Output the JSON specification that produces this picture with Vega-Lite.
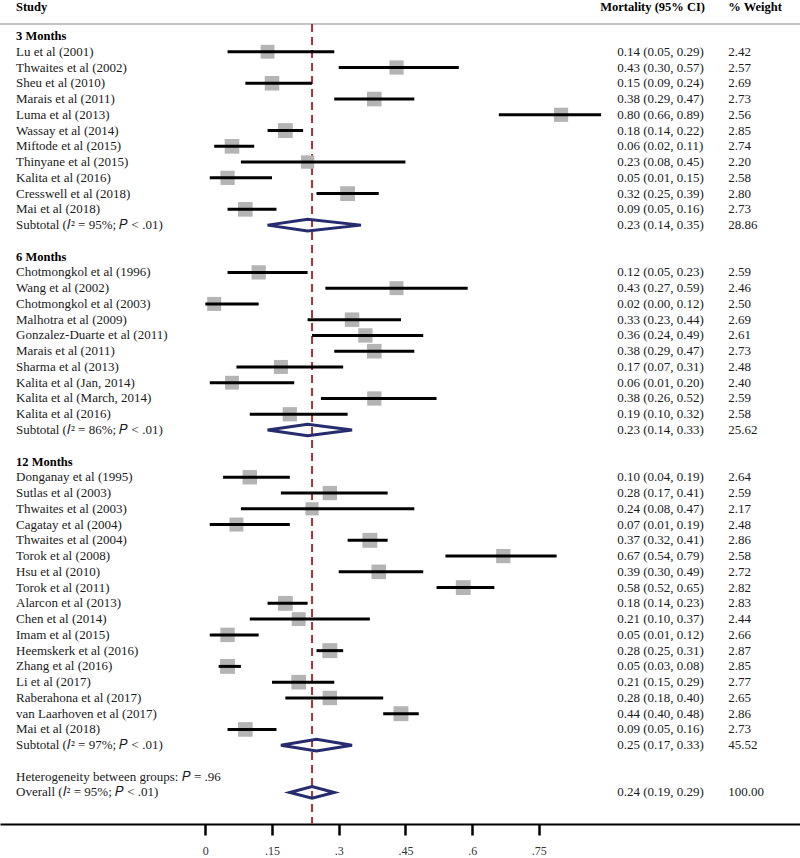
{
  "$schema": "https://vega.github.io/schema/vega-lite/v6.json",
  "width": 800,
  "height": 824,
  "autosize": {"type": "none"},
  "padding": {"left": 0, "top": 0, "right": 0, "bottom": 34},
  "background": "white",
  "config": {
    "view": {"stroke": null},
    "font": "Liberation Serif",
    "text": {"font": "Liberation Serif", "fontSize": 13, "color": "#1a1a1a"},
    "axisX": {"grid": false, "domainColor": "black", "domainWidth": 2, "tickColor": "black", "tickWidth": 2.5, "tickSize": 11, "labelFont": "Liberation Serif", "labelFontSize": 12, "labelColor": "#333333", "labelPadding": 10}
  },
  "datasets": {
    "one": [{"k": 1}],
    "rows": [
      {"row": 0, "label": "3 Months", "kind": "group"},
      {"row": 1, "label": "Lu et al (2001)", "kind": "study", "est": 0.14, "lo": 0.05, "hi": 0.29, "ci": "0.14 (0.05, 0.29)", "w": 2.42},
      {"row": 2, "label": "Thwaites et al (2002)", "kind": "study", "est": 0.43, "lo": 0.30, "hi": 0.57, "ci": "0.43 (0.30, 0.57)", "w": 2.57},
      {"row": 3, "label": "Sheu et al (2010)", "kind": "study", "est": 0.15, "lo": 0.09, "hi": 0.24, "ci": "0.15 (0.09, 0.24)", "w": 2.69},
      {"row": 4, "label": "Marais et al (2011)", "kind": "study", "est": 0.38, "lo": 0.29, "hi": 0.47, "ci": "0.38 (0.29, 0.47)", "w": 2.73},
      {"row": 5, "label": "Luma et al (2013)", "kind": "study", "est": 0.80, "lo": 0.66, "hi": 0.89, "ci": "0.80 (0.66, 0.89)", "w": 2.56},
      {"row": 6, "label": "Wassay et al (2014)", "kind": "study", "est": 0.18, "lo": 0.14, "hi": 0.22, "ci": "0.18 (0.14, 0.22)", "w": 2.85},
      {"row": 7, "label": "Miftode et al (2015)", "kind": "study", "est": 0.06, "lo": 0.02, "hi": 0.11, "ci": "0.06 (0.02, 0.11)", "w": 2.74},
      {"row": 8, "label": "Thinyane et al (2015)", "kind": "study", "est": 0.23, "lo": 0.08, "hi": 0.45, "ci": "0.23 (0.08, 0.45)", "w": 2.20},
      {"row": 9, "label": "Kalita et al (2016)", "kind": "study", "est": 0.05, "lo": 0.01, "hi": 0.15, "ci": "0.05 (0.01, 0.15)", "w": 2.58},
      {"row": 10, "label": "Cresswell et al (2018)", "kind": "study", "est": 0.32, "lo": 0.25, "hi": 0.39, "ci": "0.32 (0.25, 0.39)", "w": 2.80},
      {"row": 11, "label": "Mai et al (2018)", "kind": "study", "est": 0.09, "lo": 0.05, "hi": 0.16, "ci": "0.09 (0.05, 0.16)", "w": 2.73},
      {"row": 12, "label": "Subtotal (𝐼² = 95%; 𝑃 < .01)", "kind": "sub", "est": 0.23, "lo": 0.14, "hi": 0.35, "ci": "0.23 (0.14, 0.35)", "w": 28.86},
      {"row": 14, "label": "6 Months", "kind": "group"},
      {"row": 15, "label": "Chotmongkol et al (1996)", "kind": "study", "est": 0.12, "lo": 0.05, "hi": 0.23, "ci": "0.12 (0.05, 0.23)", "w": 2.59},
      {"row": 16, "label": "Wang et al (2002)", "kind": "study", "est": 0.43, "lo": 0.27, "hi": 0.59, "ci": "0.43 (0.27, 0.59)", "w": 2.46},
      {"row": 17, "label": "Chotmongkol et al (2003)", "kind": "study", "est": 0.02, "lo": 0.00, "hi": 0.12, "ci": "0.02 (0.00, 0.12)", "w": 2.50},
      {"row": 18, "label": "Malhotra et al (2009)", "kind": "study", "est": 0.33, "lo": 0.23, "hi": 0.44, "ci": "0.33 (0.23, 0.44)", "w": 2.69},
      {"row": 19, "label": "Gonzalez-Duarte et al (2011)", "kind": "study", "est": 0.36, "lo": 0.24, "hi": 0.49, "ci": "0.36 (0.24, 0.49)", "w": 2.61},
      {"row": 20, "label": "Marais et al (2011)", "kind": "study", "est": 0.38, "lo": 0.29, "hi": 0.47, "ci": "0.38 (0.29, 0.47)", "w": 2.73},
      {"row": 21, "label": "Sharma et al (2013)", "kind": "study", "est": 0.17, "lo": 0.07, "hi": 0.31, "ci": "0.17 (0.07, 0.31)", "w": 2.48},
      {"row": 22, "label": "Kalita et al (Jan, 2014)", "kind": "study", "est": 0.06, "lo": 0.01, "hi": 0.20, "ci": "0.06 (0.01, 0.20)", "w": 2.40},
      {"row": 23, "label": "Kalita et al (March, 2014)", "kind": "study", "est": 0.38, "lo": 0.26, "hi": 0.52, "ci": "0.38 (0.26, 0.52)", "w": 2.59},
      {"row": 24, "label": "Kalita et al (2016)", "kind": "study", "est": 0.19, "lo": 0.10, "hi": 0.32, "ci": "0.19 (0.10, 0.32)", "w": 2.58},
      {"row": 25, "label": "Subtotal (𝐼² = 86%; 𝑃 < .01)", "kind": "sub", "est": 0.23, "lo": 0.14, "hi": 0.33, "ci": "0.23 (0.14, 0.33)", "w": 25.62},
      {"row": 27, "label": "12 Months", "kind": "group"},
      {"row": 28, "label": "Donganay et al (1995)", "kind": "study", "est": 0.10, "lo": 0.04, "hi": 0.19, "ci": "0.10 (0.04, 0.19)", "w": 2.64},
      {"row": 29, "label": "Sutlas et al (2003)", "kind": "study", "est": 0.28, "lo": 0.17, "hi": 0.41, "ci": "0.28 (0.17, 0.41)", "w": 2.59},
      {"row": 30, "label": "Thwaites et al (2003)", "kind": "study", "est": 0.24, "lo": 0.08, "hi": 0.47, "ci": "0.24 (0.08, 0.47)", "w": 2.17},
      {"row": 31, "label": "Cagatay et al (2004)", "kind": "study", "est": 0.07, "lo": 0.01, "hi": 0.19, "ci": "0.07 (0.01, 0.19)", "w": 2.48},
      {"row": 32, "label": "Thwaites et al (2004)", "kind": "study", "est": 0.37, "lo": 0.32, "hi": 0.41, "ci": "0.37 (0.32, 0.41)", "w": 2.86},
      {"row": 33, "label": "Torok et al (2008)", "kind": "study", "est": 0.67, "lo": 0.54, "hi": 0.79, "ci": "0.67 (0.54, 0.79)", "w": 2.58},
      {"row": 34, "label": "Hsu et al (2010)", "kind": "study", "est": 0.39, "lo": 0.30, "hi": 0.49, "ci": "0.39 (0.30, 0.49)", "w": 2.72},
      {"row": 35, "label": "Torok et al (2011)", "kind": "study", "est": 0.58, "lo": 0.52, "hi": 0.65, "ci": "0.58 (0.52, 0.65)", "w": 2.82},
      {"row": 36, "label": "Alarcon et al (2013)", "kind": "study", "est": 0.18, "lo": 0.14, "hi": 0.23, "ci": "0.18 (0.14, 0.23)", "w": 2.83},
      {"row": 37, "label": "Chen et al (2014)", "kind": "study", "est": 0.21, "lo": 0.10, "hi": 0.37, "ci": "0.21 (0.10, 0.37)", "w": 2.44},
      {"row": 38, "label": "Imam et al (2015)", "kind": "study", "est": 0.05, "lo": 0.01, "hi": 0.12, "ci": "0.05 (0.01, 0.12)", "w": 2.66},
      {"row": 39, "label": "Heemskerk et al (2016)", "kind": "study", "est": 0.28, "lo": 0.25, "hi": 0.31, "ci": "0.28 (0.25, 0.31)", "w": 2.87},
      {"row": 40, "label": "Zhang et al (2016)", "kind": "study", "est": 0.05, "lo": 0.03, "hi": 0.08, "ci": "0.05 (0.03, 0.08)", "w": 2.85},
      {"row": 41, "label": "Li et al (2017)", "kind": "study", "est": 0.21, "lo": 0.15, "hi": 0.29, "ci": "0.21 (0.15, 0.29)", "w": 2.77},
      {"row": 42, "label": "Raberahona et al (2017)", "kind": "study", "est": 0.28, "lo": 0.18, "hi": 0.40, "ci": "0.28 (0.18, 0.40)", "w": 2.65},
      {"row": 43, "label": "van Laarhoven et al (2017)", "kind": "study", "est": 0.44, "lo": 0.40, "hi": 0.48, "ci": "0.44 (0.40, 0.48)", "w": 2.86},
      {"row": 44, "label": "Mai et al (2018)", "kind": "study", "est": 0.09, "lo": 0.05, "hi": 0.16, "ci": "0.09 (0.05, 0.16)", "w": 2.73},
      {"row": 45, "label": "Subtotal (𝐼² = 97%; 𝑃 < .01)", "kind": "sub", "est": 0.25, "lo": 0.17, "hi": 0.33, "ci": "0.25 (0.17, 0.33)", "w": 45.52},
      {"row": 47, "label": "Heterogeneity between groups: 𝑃 = .96", "kind": "het"},
      {"row": 48, "label": "Overall (𝐼² = 95%; 𝑃 < .01)", "kind": "overall", "est": 0.24, "lo": 0.19, "hi": 0.29, "ci": "0.24 (0.19, 0.29)", "w": 100.00}
    ]
  },
  "data": {"name": "rows"},
  "layer": [
    {
      "data": {"name": "one"},
      "mark": {"type": "rule", "color": "#c4c4c4", "strokeWidth": 2.2},
      "encoding": {
        "y": {"datum": -0.76, "type": "quantitative", "scale": {"domain": [-2.284, 50], "reverse": true, "nice": false, "zero": false}, "axis": null}
      }
    },
    {
      "data": {"name": "one"},
      "mark": {"type": "rule", "color": "#a8323a", "strokeWidth": 2, "strokeDash": [8, 5]},
      "encoding": {
        "x": {"datum": 0.24, "type": "quantitative"},
        "y": {"datum": -0.76, "type": "quantitative", "axis": null},
        "y2": {"datum": 50}
      }
    },
    {
      "transform": [{"filter": "datum.kind === 'study'"}],
      "mark": {"type": "point", "shape": "square", "filled": true, "color": "#b4b4b4", "opacity": 1},
      "encoding": {
        "x": {"field": "est", "type": "quantitative"},
        "y": {"field": "row", "type": "quantitative", "axis": null},
        "size": {"field": "w", "type": "quantitative", "scale": {"domain": [2.1, 2.9], "range": [170, 225]}, "legend": null}
      }
    },
    {
      "transform": [{"filter": "datum.kind === 'study'"}],
      "mark": {"type": "rule", "color": "black", "strokeWidth": 3},
      "encoding": {
        "x": {
          "field": "lo", "type": "quantitative",
          "scale": {"domain": [-0.4617, 1.3373], "nice": false, "zero": false},
          "axis": {
            "title": null, "values": [0, 0.15, 0.3, 0.45, 0.6, 0.75],
            "labelExpr": "datum.value == 0 ? '0' : replace(format(datum.value, '.2~f'), '0.', '.')"
          }
        },
        "x2": {"field": "hi"},
        "y": {"field": "row", "type": "quantitative", "axis": null}
      }
    },
    {
      "transform": [
        {"filter": "datum.kind === 'sub' || datum.kind === 'overall'"},
        {"fold": ["lo", "est", "hi"], "as": ["vertex", "xv"]},
        {"calculate": "datum.vertex === 'est' ? 0.37 : 0", "as": "hh"},
        {"calculate": "datum.row - datum.hh", "as": "ytop"},
        {"calculate": "datum.row + datum.hh", "as": "ybot"}
      ],
      "mark": {"type": "area", "orient": "vertical", "fill": null, "fillOpacity": 0, "stroke": "#262c6e", "strokeWidth": 3, "strokeJoin": "miter"},
      "encoding": {
        "x": {"field": "xv", "type": "quantitative"},
        "y": {"field": "ytop", "type": "quantitative", "axis": null},
        "y2": {"field": "ybot"},
        "detail": {"field": "row"}
      }
    },
    {
      "transform": [{"filter": "datum.kind !== 'group'"}],
      "mark": {"type": "text", "align": "left", "baseline": "middle"},
      "encoding": {
        "x": {"datum": -0.4257, "type": "quantitative"},
        "y": {"field": "row", "type": "quantitative", "axis": null},
        "text": {"field": "label"}
      }
    },
    {
      "transform": [{"filter": "datum.kind === 'group'"}],
      "mark": {"type": "text", "align": "left", "baseline": "middle", "fontWeight": "bold", "fontSize": 12.5, "color": "black"},
      "encoding": {
        "x": {"datum": -0.4257, "type": "quantitative"},
        "y": {"field": "row", "type": "quantitative", "axis": null},
        "text": {"field": "label"}
      }
    },
    {
      "transform": [{"filter": "isValid(datum.ci)"}],
      "mark": {"type": "text", "align": "left", "baseline": "middle"},
      "encoding": {
        "x": {"datum": 0.9264, "type": "quantitative"},
        "y": {"field": "row", "type": "quantitative", "axis": null},
        "text": {"field": "ci"}
      }
    },
    {
      "transform": [{"filter": "isValid(datum.w)"}],
      "mark": {"type": "text", "align": "left", "baseline": "middle"},
      "encoding": {
        "x": {"datum": 1.176, "type": "quantitative"},
        "y": {"field": "row", "type": "quantitative", "axis": null},
        "text": {"field": "w", "format": ".2f"}
      }
    },
    {
      "data": {"name": "one"},
      "mark": {"type": "text", "align": "left", "baseline": "middle", "fontWeight": "bold", "fontSize": 12.5, "color": "black"},
      "encoding": {
        "x": {"datum": -0.4257, "type": "quantitative"},
        "y": {"datum": -1.82, "type": "quantitative", "axis": null},
        "text": {"value": "Study"}
      }
    },
    {
      "data": {"name": "one"},
      "mark": {"type": "text", "align": "right", "baseline": "middle", "fontWeight": "bold", "fontSize": 12.5, "color": "black"},
      "encoding": {
        "x": {"datum": 1.1237, "type": "quantitative"},
        "y": {"datum": -1.82, "type": "quantitative", "axis": null},
        "text": {"value": "Mortality (95% CI)"}
      }
    },
    {
      "data": {"name": "one"},
      "mark": {"type": "text", "align": "left", "baseline": "middle", "fontWeight": "bold", "fontSize": 12.5, "color": "black"},
      "encoding": {
        "x": {"datum": 1.176, "type": "quantitative"},
        "y": {"datum": -1.82, "type": "quantitative", "axis": null},
        "text": {"value": "% Weight"}
      }
    }
  ]
}
